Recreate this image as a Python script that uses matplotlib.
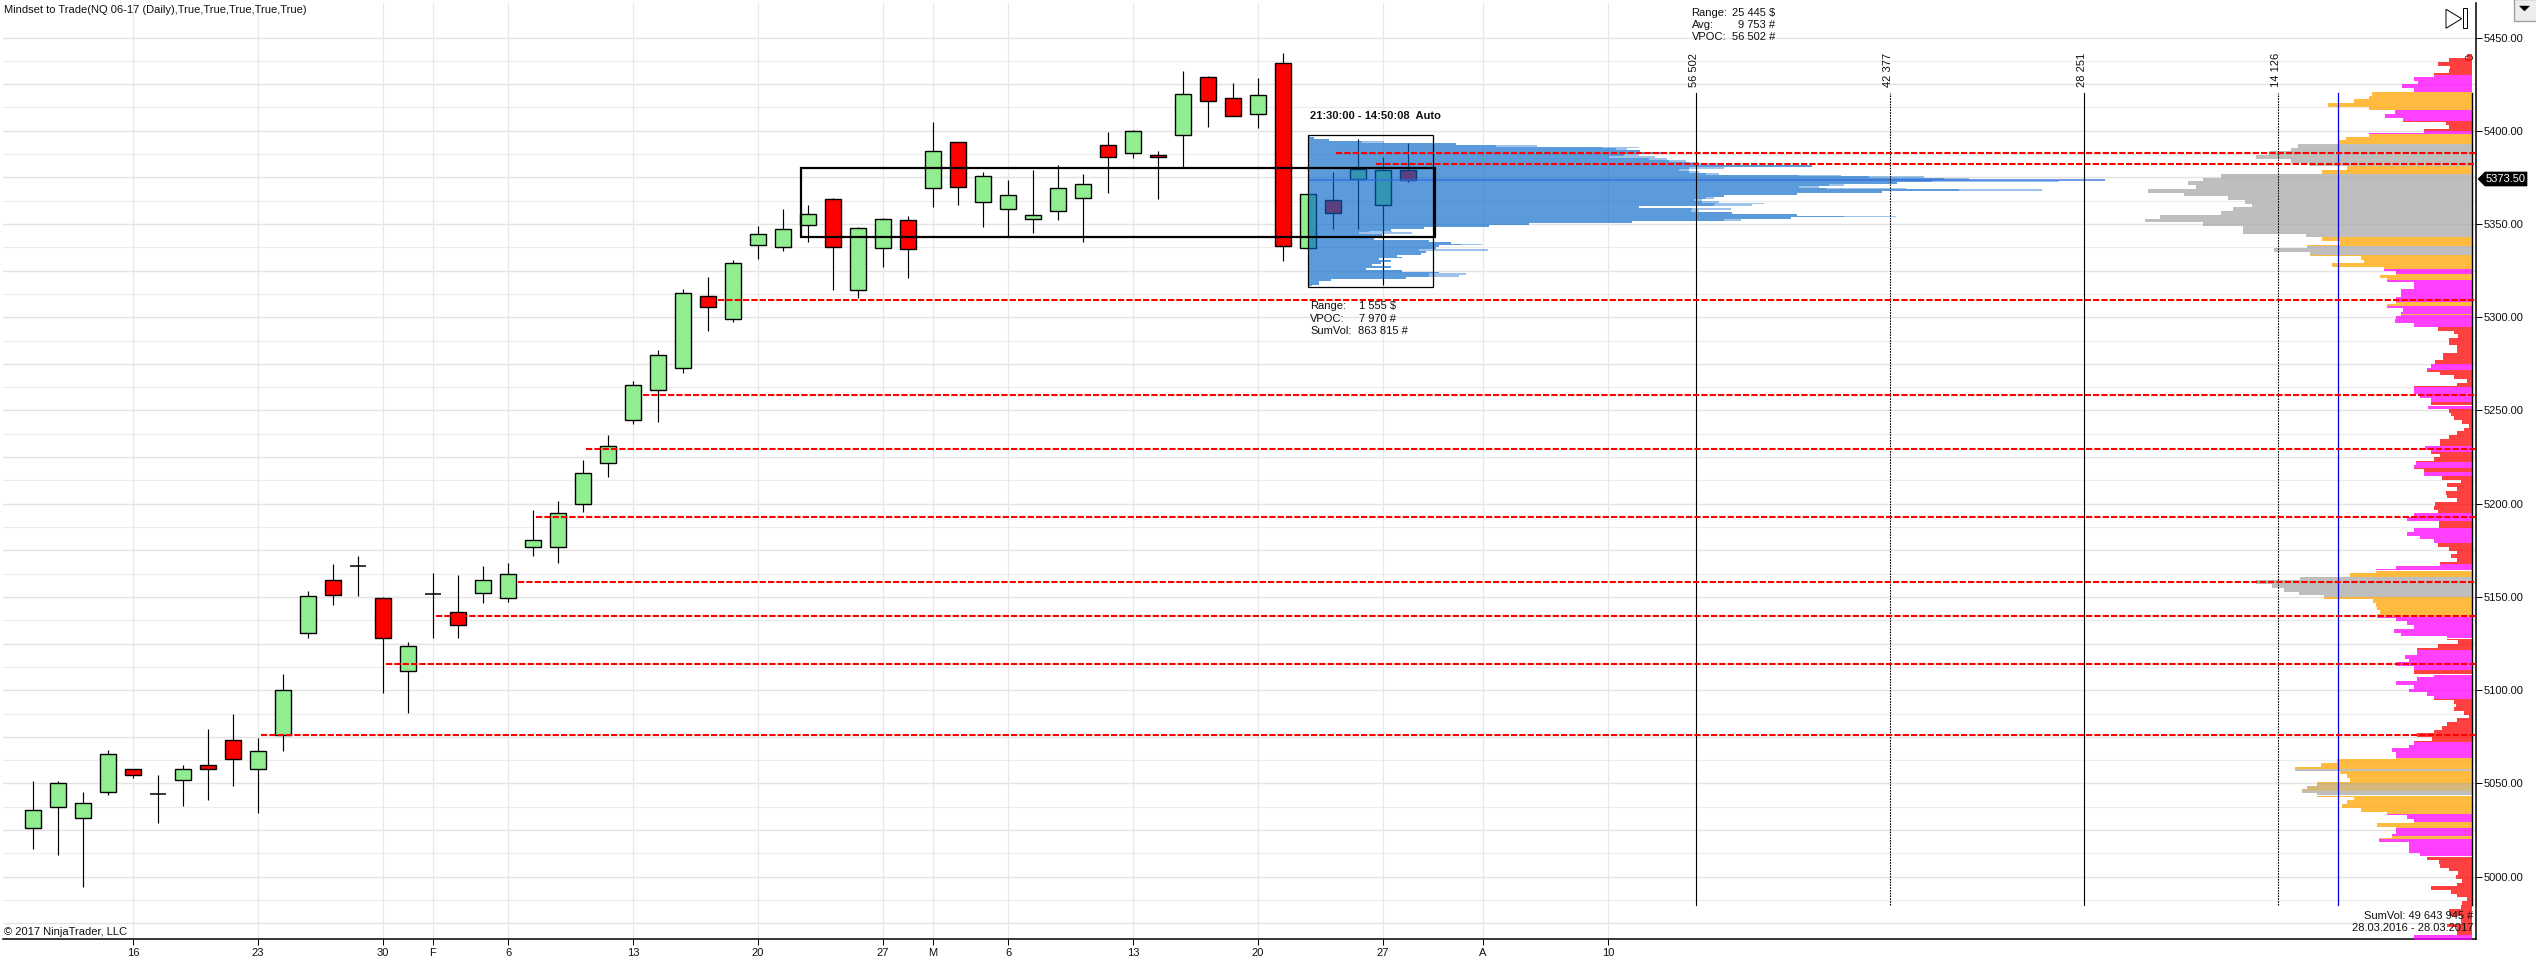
import numpy as np
import matplotlib
matplotlib.use("Agg")
import matplotlib.pyplot as plt
from matplotlib.patches import Polygon, Rectangle

plt.rcParams['font.family'] = ['Liberation Sans', 'DejaVu Sans']

W, H = 2536, 964

# ---------- candles (open, high, low, close) ----------
opens = [5026.1,5037.3,5031.3,5045.2,5057.7,5044.5,5051.8,5060.0,5073.5,5058.0,5076.2,5130.9,5158.9,5166.8,5149.7,5110.1,
         5151.7,5142.1,5152.3,5149.7,5176.7,5177.0,5200.1,5221.6,5245.0,5260.8,5272.6,5311.2,5299.3,5338.6,5337.8,5349.3,
         5363.2,5314.4,5336.9,5352.0,5369.1,5393.8,5361.6,5357.9,5352.5,5356.8,5363.8,5392.2,5387.9,5386.8,5397.5,5428.6,
         5417.4,5408.8,5436.1,5336.9,5362.7,5373.9,5360.0,5378.8]
closes = [5035.6,5050.5,5039.3,5065.6,5054.4,5044.5,5058.0,5058.0,5063.0,5067.6,5100.2,5150.3,5151.0,5166.8,5127.9,5123.6,
          5151.7,5134.9,5158.9,5162.2,5180.3,5195.2,5216.3,5231.1,5263.4,5279.9,5313.2,5305.3,5329.3,5344.8,5347.1,5355.2,
          5337.5,5347.7,5352.5,5336.4,5389.0,5369.7,5375.6,5365.4,5354.6,5369.1,5371.3,5385.7,5399.7,5385.7,5419.5,5415.8,
          5408.1,5419.0,5338.0,5365.9,5355.7,5379.3,5378.8,5373.8]
highs = [5051.5,5051.5,5045.5,5067.9,5058.0,5054.4,5059.7,5079.1,5087.4,5074.5,5108.8,5153.0,5167.8,5171.8,5150.0,5126.0,
         5162.9,5161.9,5166.5,5168.1,5196.5,5201.4,5223.5,5236.7,5265.7,5282.2,5315.2,5321.4,5330.7,5348.8,5358.0,5360.2,
         5363.8,5348.2,5353.0,5354.3,5404.7,5393.8,5377.7,5373.6,5378.9,5381.6,5376.8,5399.3,5400.2,5389.1,5432.0,5429.2,
         5425.6,5428.3,5441.7,5365.9,5377.9,5395.6,5385.9,5393.2]
lows = [5014.9,5011.9,4994.4,5043.9,5053.1,5029.0,5037.9,5040.9,5048.8,5034.3,5067.3,5127.9,5145.7,5150.3,5098.6,5087.7,
        5127.9,5127.9,5146.7,5147.1,5172.1,5168.1,5195.5,5214.3,5242.6,5244.0,5270.3,5292.8,5297.7,5331.3,5335.7,5340.5,
        5314.8,5310.5,5327.1,5321.2,5359.3,5360.4,5348.6,5343.2,5345.3,5352.1,5340.5,5366.8,5385.6,5363.6,5380.2,5402.2,
        5408.1,5401.6,5330.3,5336.9,5347.5,5347.5,5317.3,5372.7]

# ---------- date axis ----------
tick_bars = [4, 9, 14, 16, 19, 24, 29, 34, 36, 39, 44, 49, 54, 58, 63]
tick_labels = ['16', '23', '30', 'F', '6', '13', '20', '27', 'M', '6', '13', '20', '27', 'A', '10']
price_ticks = [5450, 5400, 5350, 5300, 5250, 5200, 5150, 5100, 5050, 5000]

# ---------- red support / resistance lines: price and bar where each starts ----------
level_prices = [5075.9, 5114.1, 5139.8, 5157.9, 5192.9, 5229.1, 5258.1, 5309.2, 5387.9, 5382.0]
level_starts = [9.1, 14.1, 16.1, 19.4, 20.1, 22.1, 24.4, 27.4, 52.1, 53.7]

# ---------- session profile ----------
sess_price = list(range(5397, 5316, -1))
sess_vol = [20,64,214,544,1484,1884,2944,3084,3324,3594,3164,3014,3414,3614,3814,3914,5044,3814,3714,3814,3984,
            4914,5614,6364,6244,5894,5214,4914,5184,6514,5744,4894,4164,3984,3864,3944,4084,4064,3314,3844,3834,
            4244,4894,5364,4834,4164,3244,2214,1814,1164,834,614,514,744,544,664,1214,1434,1534,1314,1284,1114,
            1184,1134,894,944,714,834,734,644,834,584,944,1314,1214,1214,984,234,114,114,44]
sess_tip = [20,64,214,764,1484,2294,3314,3194,3324,3594,3314,3474,3594,3784,3914,4114,5044,4164,3814,3914,4114,
            5334,6164,6614,7514,5894,5364,5114,5984,7344,5744,4894,4164,4064,3944,4114,4564,4444,3314,4234,3914,
            4244,4894,5884,4834,4334,3244,2214,1814,1164,834,844,1044,744,544,664,1214,1434,1744,1314,1284,1804,
            1184,1134,894,944,714,834,734,644,834,584,944,1314,1584,1514,984,234,114,114,44]
sess_vpoc_price = 5373.5
sess_vpoc_vol = 7970

# ---------- global volume profile (thousands of contracts), 5440 down to 4968 in 2-point rows ----------
gp_price = list(range(5440, 4966, -2))
gp_vol = [0.4,1.7,2.5,1.6,1.7,2.8,4.2,3.9,5.1,4.2,7.3,7.5,8.6,10.5,7.5,5.6,6.3,5.0,1.9,1.7,3.5,7.5,9.2,9.7,
          12.7,13.2,14.8,15.7,13.2,11.8,9.1,10.9,18.3,19.6,20.7,20.1,23.6,21.0,17.8,16.5,16.0,17.4,18.3,22.7,23.8,19.6,
          16.7,16.7,12.1,10.9,9.6,12.0,14.4,11.8,8.1,7.9,10.2,6.4,5.5,6.7,6.2,4.2,4.2,5.2,5.2,5.5,5.5,6.2,5.0,5.2,5.5,5.6,
          4.2,2.5,1.3,1.0,1.7,1.7,1.1,1.1,2.1,2.1,2.7,3.0,3.3,2.3,1.3,0.4,1.1,4.2,4.2,3.8,3.0,3.0,3.2,1.7,1.5,1.3,0.7,0.2,
          0.6,1.1,1.7,2.3,2.3,3.4,3.0,2.3,2.8,4.1,4.2,3.5,3.5,2.2,0.8,1.8,1.1,1.9,1.8,1.1,2.7,2.8,2.5,4.2,4.7,2.4,2.4,4.2,
          4.7,3.8,2.8,2.5,1.7,1.1,1.5,1.1,2.3,5.5,7.0,8.9,12.5,15.7,14.6,13.7,12.6,10.8,7.2,7.0,6.9,6.7,6.9,5.5,4.7,4.2,
          5.7,5.2,1.8,1.0,2.5,4.0,4.0,4.9,4.6,5.5,4.2,4.2,2.8,4.0,5.5,4.2,4.6,3.3,2.8,1.3,1.2,1.3,0.6,0.2,1.1,1.8,2.2,2.8,
          4.0,2.9,4.2,4.6,5.8,5.5,5.5,9.8,11.0,12.9,9.6,9.1,8.9,11.3,12.0,12.4,11.3,8.6,9.1,9.5,8.1,6.2,4.7,4.2,6.9,5.5,
          5.5,5.8,6.8,4.6,4.6,4.6,3.8,3.3,2.4,2.3,1.7,1.0,1.2,0.7,1.1,3.0,1.5,1.1,0.4,0.7,0.8,1.7,1.7,0.8,0.8,1.8,1.1,1.1,4.2]

# colour bands of the global profile: lower price of each band, top to bottom
band_floor = [5430,5421,5411,5405,5400,5398,5393,5381,5377,5343,5338,5333.5,5326,5323,5320,5308,5306,5302,5301,5294.5,
              5275,5271.7,5262.7,5254.7,5252.6,5251,5231,5228,5222.5,5219,5217,5215,5195,5191,5187,5179,5167.6,5164.2,
              5160.6,5150.1,5139.2,5127.6,5121.7,5111,5108.3,5095.4,5072.5,5063.6,5058,5056.5,5050.2,5046,5043.6,5033.7,
              5029.5,5026,5022,5020,5010.9,4969,4966]
band_kind = list('RMOMRMOGOGOGOMOMOMOMRMRMRMRMRMRMRMRMRMOGOMRMRMRMOGOTGOMOMOMRM')

scale_vols = [56502, 42377, 28251, 14126]
scale_labels = ['56 502', '42 377', '28 251', '14 126']
avg_vol = 9753

band_colors = {'R': '#FF0000', 'M': '#FF00FF', 'O': '#FFA500', 'G': '#A9A9A9', 'T': '#C8A050'}

# ---------- figure ----------
fig = plt.figure(figsize=(W / 100, H / 100), dpi=100, facecolor='white')
left_px, right_px, top_px, bottom_px = 3, 2476, 3, 939
ax = fig.add_axes([left_px / W, 1 - bottom_px / H, (right_px - left_px) / W, (bottom_px - top_px) / H])
ax.set_xlim(-1.2, 97.72)
ax.set_ylim(4966.6, 5468.5)
for s in ['top', 'left']:
    ax.spines[s].set_visible(False)
for s in ['bottom', 'right']:
    ax.spines[s].set_linewidth(1.1)

def fx(x):
    return x / W
def fy(y):
    return 1 - y / H
def ftext(x, y, s, **kw):
    kw.setdefault('fontsize', 8)
    kw.setdefault('va', 'center')
    kw.setdefault('color', '#101010')
    fig.text(fx(x), fy(y), s, **kw)

# grid
for i in range(0, 40):
    p = 4975 + 12.5 * i
    if p > 5462:
        break
    major = (i % 2 == 0)
    ax.axhline(p, color='#E3E3E3' if major else '#ECECEC', lw=1.0 if major else 0.8, zorder=0)
for b in tick_bars:
    ax.axvline(b, color='#E8E8E8', lw=0.9, zorder=0)

# axis furniture
ax.set_xticks(tick_bars)
ax.set_xticklabels(tick_labels, fontsize=8, color='#101010')
ax.tick_params(axis='x', length=4.3, width=0.7, pad=2, color='black')
ax.yaxis.tick_right()
ax.set_yticks(price_ticks)
ax.set_yticklabels(['%.2f' % p for p in price_ticks], fontsize=8, color='#101010')
ax.tick_params(axis='y', length=4.3, width=0.7, pad=1.5)

# candles
body_w = 0.66
for i, (o, h, l, c) in enumerate(zip(opens, highs, lows, closes)):
    ax.vlines(i, l, h, color='black', lw=0.85, zorder=2)
    top, bot = max(o, c), min(o, c)
    if o == c:
        ax.hlines(o, i - body_w / 2, i + body_w / 2, color='black', lw=1.1, zorder=3)
    else:
        col = '#90EE90' if c > o else '#FF0000'
        ax.add_patch(Rectangle((i - body_w / 2, bot), body_w, top - bot, facecolor=col,
                               edgecolor='black', lw=1.0, zorder=3))

# session profile
sess_base = 51.0
sess_k = 0.004
sy = np.array(sess_price, dtype=float)
sv = np.array(sess_vol, dtype=float)
st = np.array(sess_tip, dtype=float)
ax.fill_betweenx(sy, sess_base, sess_base + sv * sess_k, step='mid', color='#0063C8', alpha=0.64, lw=0, zorder=4)
ax.fill_betweenx(sy, sess_base + sv * sess_k, sess_base + st * sess_k, step='mid', color='#0063C8', alpha=0.38, lw=0, zorder=4)
ax.plot([sess_base, sess_base + sess_vpoc_vol * sess_k], [sess_vpoc_price, sess_vpoc_price],
        color='#2F6BE0', lw=1.2, alpha=0.8, zorder=4.5, solid_capstyle='butt')
ax.add_patch(Rectangle((51.0, 5316), 5.0, 81.5, fill=False, edgecolor='black', lw=0.9, zorder=5))
ax.add_patch(Rectangle((30.72, 5343), 25.36, 37, fill=False, edgecolor='black', lw=1.6, zorder=5))

# global profile
gp_base = 97.56
gp_k = 0.5493
gy = np.array(gp_price, dtype=float)
gv = np.array(gp_vol, dtype=float)
fine = np.arange(4966.0, 5441.25, 0.25)
nearest = np.abs(fine[:, None] - gy[None, :]).argmin(axis=1)
fine_x = gp_base - gv[nearest] * gp_k
ceil = 5442.0
for floor_p, kind in zip(band_floor, band_kind):
    m = (fine >= floor_p) & (fine <= ceil)
    ax.fill_betweenx(fine[m], fine_x[m], gp_base, step='mid', color=band_colors[kind], alpha=0.75, lw=0, zorder=3.5)
    ceil = floor_p

# scale lines
line_top, line_bot = 5420, 4985
for v, lab in zip(scale_vols, scale_labels):
    x = gp_base - v / 1000 * gp_k
    ls = (0, (1.5, 1)) if v in (42377, 14126) else '-'
    ax.plot([x, x], [line_bot, line_top], color='black', lw=0.8, ls=ls, zorder=5.5)
    ax.annotate(lab, (x, 5420), xytext=(-1.5, 4.5), textcoords='offset points', rotation=90,
                ha='center', va='bottom', fontsize=8, color='#101010', rotation_mode='default')
ax.plot([gp_base, gp_base], [line_bot, line_top], color='black', lw=1.0, zorder=5.5)
ax.annotate('0', (gp_base, 5420), xytext=(-1, 24), textcoords='offset points', rotation=90,
            ha='center', va='bottom', fontsize=8, color='#101010')
xa = gp_base - avg_vol / 1000 * gp_k
ax.plot([xa, xa], [line_bot, line_top], color='#0000E0', lw=0.9, zorder=5.5)

# red levels
for p, s in zip(level_prices, level_starts):
    ax.plot([s, 97.72], [p, p], color='#FF0000', lw=1.5, ls=(0, (3, 1)), zorder=6, clip_on=True)

# texts
ftext(4, 10, 'Mindset to Trade(NQ 06-17 (Daily),True,True,True,True,True)')
ftext(4, 932, '\u00a9 2017 NinjaTrader, LLC')
ftext(1691.6, 13, 'Range:')
ftext(1732, 13, '25 445 $')
ftext(1691.6, 25, 'Avg:')
ftext(1738, 25, '9 753 #')
ftext(1691.6, 37, 'VPOC:')
ftext(1732, 37, '56 502 #')
ftext(1310, 116, '21:30:00 - 14:50:08  Auto', fontweight='bold')
ftext(1310, 306, 'Range:')
ftext(1359, 306, '1 555 $')
ftext(1310, 319, 'VPOC:')
ftext(1359, 319, '7 970 #')
ftext(1310, 331, 'SumVol:')
ftext(1358, 331, '863 815 #')
ftext(2473, 916, 'SumVol: 49 643 945 #', ha='right', zorder=10)
ftext(2473, 928, '28.03.2016 - 28.03.2017', ha='right', zorder=10)

def fpoly(points, **kw):
    fig.add_artist(Polygon([(fx(x), fy(y)) for x, y in points], closed=True,
                           transform=fig.transFigure, **kw))

# last price flag
fpoly([(2478, 179), (2485, 172), (2527, 172), (2527, 186), (2485, 186)], facecolor='black', edgecolor='black', lw=0.5)
ftext(2506, 179, '5373.50', color='white', ha='center')

# end-of-chart icon and drop-down button
fpoly([(2446, 9.3), (2446, 28.3), (2461.7, 18.7)], facecolor='white', edgecolor='black', lw=0.7)
fpoly([(2463.3, 8.3), (2466.7, 8.3), (2466.7, 28.3), (2463.3, 28.3)], facecolor='white', edgecolor='black', lw=0.7)
fpoly([(2513.5, -1), (2537, -1), (2537, 20.5), (2513.5, 20.5)], facecolor='#EDEDED', edgecolor='#A0A0A0', lw=1.0)
fpoly([(2519.5, 6), (2529.5, 6), (2524.5, 11)], facecolor='black', edgecolor='black', lw=0.3)

fig.savefig('out.png', dpi=100, facecolor='white')
